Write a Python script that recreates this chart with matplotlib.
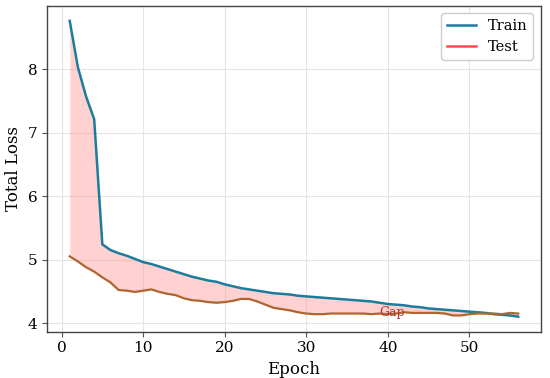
import matplotlib
matplotlib.use('Agg')
import matplotlib.pyplot as plt
from matplotlib.lines import Line2D
import numpy as np

epochs = list(range(1, 57))
train_loss = [8.76, 8.03, 7.57, 7.21, 5.24, 5.15, 5.10, 5.06, 5.01, 4.96,
              4.93, 4.89, 4.85, 4.81, 4.77, 4.73, 4.70, 4.67, 4.65, 4.61,
              4.58, 4.55, 4.53, 4.51, 4.49, 4.47, 4.46, 4.45, 4.43, 4.42,
              4.41, 4.40, 4.39, 4.38, 4.37, 4.36, 4.35, 4.34, 4.32, 4.30,
              4.29, 4.28, 4.26, 4.25, 4.23, 4.22, 4.21, 4.20, 4.19, 4.18,
              4.17, 4.16, 4.14, 4.13, 4.12, 4.10]
test_loss = [5.05, 4.97, 4.88, 4.81, 4.72, 4.64, 4.52, 4.51, 4.49, 4.51,
             4.53, 4.49, 4.46, 4.44, 4.39, 4.36, 4.35, 4.33, 4.32, 4.33,
             4.35, 4.38, 4.38, 4.34, 4.29, 4.24, 4.22, 4.20, 4.17, 4.15,
             4.14, 4.14, 4.15, 4.15, 4.15, 4.15, 4.15, 4.14, 4.15, 4.14,
             4.15, 4.17, 4.16, 4.16, 4.16, 4.16, 4.15, 4.12, 4.12, 4.14,
             4.15, 4.15, 4.15, 4.14, 4.16, 4.15]

plt.rcParams['font.family'] = ['DejaVu Serif']

fig = plt.figure(figsize=(5.5, 3.78), dpi=100)
ax = fig.add_axes([0.086, 0.123, 0.897, 0.861])

x = np.array(epochs)
tr = np.array(train_loss)
te = np.array(test_loss)

# shaded gap between the curves
ax.fill_between(x, tr, te, color='#ff9999', alpha=0.45, linewidth=0)
ax.plot(x, tr, color='#1b7d9c', linewidth=1.8)
ax.plot(x, te, color='#b0652e', linewidth=1.6)

ax.text(40.5, 4.17, 'Gap', color='#b03a2e', fontsize=9, ha='center', va='center')

ax.set_xlabel('Epoch', fontsize=12)
ax.set_ylabel('Total Loss', fontsize=12)
ax.tick_params(labelsize=11, color='#555555', length=3.5)
ax.grid(True, color='#e4e4e4', linewidth=0.8)
ax.set_axisbelow(True)
for s in ax.spines.values():
    s.set_color('#444444')
    s.set_linewidth(1.0)

handles = [Line2D([0], [0], color='#1b7d9c', lw=1.8),
           Line2D([0], [0], color='#ff4b4b', lw=1.8)]
ax.legend(handles, ['Train', 'Test'], loc='upper right', fontsize=10.5,
          edgecolor='#cccccc', framealpha=1)

fig.savefig('out.png', dpi=100)
